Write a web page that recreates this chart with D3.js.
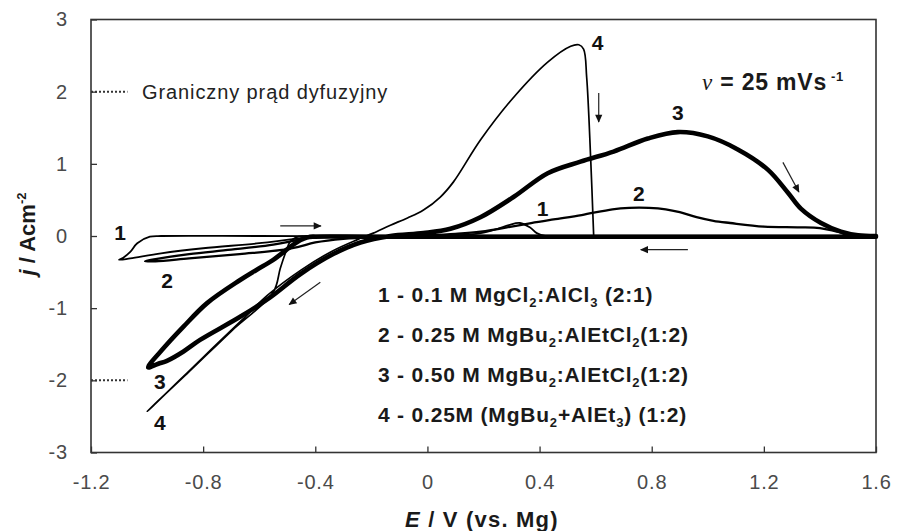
<!DOCTYPE html>
<html><head><meta charset="utf-8">
<script src="https://cdn.jsdelivr.net/npm/d3@7"></script>
<style>
body{margin:0;background:#fff;}
svg{display:block;}
text{font-family:"Liberation Sans",Arial,Helvetica,sans-serif;}
</style>
</head><body>
<svg id="chart" width="897" height="531"></svg>
<script>
// ---- tick values / labels
const xTicks = [-1.2, -0.8, -0.4, 0, 0.4, 0.8, 1.2, 1.6];
const xTickLabels = ["-1.2", "-0.8", "-0.4", "0", "0.4", "0.8", "1.2", "1.6"];
const yTicks = [-3, -2, -1, 0, 1, 2, 3];
const yTickLabels = ["-3", "-2", "-1", "0", "1", "2", "3"];

// ---- series (E in V vs. Mg, j in A cm^-2)
const curve1E = [-0.45, -0.6, -0.8, -0.95, -1.06, -1.1, -1.085, -1.06, -1.035, -0.99, -0.95, -0.6, -0.2, 0.1, 0.19, 0.25, 0.29, 0.33, 0.365, 0.39, 0.42, 0.6, 1.0, 1.6];
const curve1J = [-0.03, -0.1, -0.17, -0.24, -0.31, -0.33, -0.3, -0.22, -0.1, -0.01, 0.0, 0.0, 0.0, 0.01, 0.04, 0.1, 0.15, 0.18, 0.12, 0.04, 0.0, 0.0, 0.0, 0.0];

const curve2E = [1.6, 0.8, 0.0, -0.38, -0.42, -0.46, -0.55, -0.7, -0.85, -0.97, -1.007, -0.97, -0.85, -0.67, -0.51, -0.46, -0.4, -0.3, -0.15, 0.0, 0.1, 0.19, 0.3, 0.37, 0.45, 0.55, 0.66, 0.72, 0.79, 0.85, 0.9, 0.96, 1.02, 1.08, 1.2, 1.32, 1.4, 1.45, 1.5, 1.54, 1.6];
const curve2J = [0.0, 0.0, 0.0, 0.0, 0.0, -0.05, -0.12, -0.19, -0.25, -0.32, -0.35, -0.35, -0.31, -0.25, -0.19, -0.15, -0.09, -0.04, -0.01, 0.01, 0.03, 0.06, 0.13, 0.18, 0.23, 0.29, 0.37, 0.39, 0.39, 0.37, 0.33, 0.26, 0.21, 0.18, 0.13, 0.12, 0.11, 0.07, 0.03, 0.01, 0.0];

const curve3E = [1.6, 0.6, -0.2, -0.4, -0.43, -0.454, -0.489, -0.55, -0.61, -0.668, -0.786, -0.871, -0.94, -0.996, -0.96, -0.929, -0.87, -0.811, -0.668, -0.561, -0.454, -0.336, -0.239, -0.132, -0.014, 0.082, 0.189, 0.307, 0.429, 0.546, 0.664, 0.786, 0.893, 1.0, 1.107, 1.214, 1.286, 1.332, 1.404, 1.475, 1.536, 1.6];
const curve3J = [-0.01, -0.01, -0.01, -0.01, -0.02, -0.06, -0.15, -0.33, -0.47, -0.61, -0.93, -1.26, -1.55, -1.82, -1.77, -1.73, -1.6, -1.44, -1.12, -0.85, -0.53, -0.25, -0.09, 0.0, 0.04, 0.1, 0.26, 0.54, 0.87, 1.03, 1.17, 1.35, 1.44, 1.38, 1.2, 0.92, 0.6, 0.38, 0.18, 0.06, 0.01, 0.0];

const curve4E = [0.593, 0.2, -0.2, -0.44, -0.47, -0.49, -0.505, -0.525, -0.55, -0.7, -0.85, -1.0, -0.98, -0.8, -0.65, -0.57, -0.45, -0.34, -0.25, -0.193, -0.132, -0.071, -0.014, 0.046, 0.093, 0.189, 0.307, 0.429, 0.511, 0.54, 0.557, 0.568, 0.582, 0.593];
const curve4J = [0.0, 0.0, 0.0, 0.0, -0.02, -0.08, -0.22, -0.45, -0.78, -1.32, -1.88, -2.43, -2.36, -1.68, -1.12, -0.82, -0.47, -0.21, -0.05, 0.04, 0.15, 0.25, 0.36, 0.54, 0.75, 1.33, 1.92, 2.41, 2.63, 2.65, 2.59, 2.2, 1.1, 0.0];

const curveWidths = [1.8, 2.3, 4.6, 1.7];

// ---- curve number labels [E, j, text]
const curveLabelE = [-1.096, -0.929, -0.954, -0.954, 0.607, 0.893, 0.754, 0.411];
const curveLabelJ = [0.05, -0.61, -2.02, -2.59, 2.68, 1.71, 0.59, 0.38];
const curveLabelText = ["1", "2", "3", "4", "4", "3", "2", "1"];

// ---- arrows (tail -> head)
const arrowE1 = [-0.525, 0.611, 1.268, 0.929, -0.382];
const arrowJ1 = [0.14, 1.98, 1.02, -0.19, -0.64];
const arrowE2 = [-0.38, 0.611, 1.325, 0.761, -0.493];
const arrowJ2 = [0.14, 1.58, 0.61, -0.19, -0.95];

// ---- limiting-current reference levels
const limitLevels = [2, -2];
const limitLabel = "Graniczny prąd dyfuzyjny";

// ---- legend lines (segments; 1 = subscript)
const legendLines = [
  [["1 - 0.1 M MgCl", 0], ["2", 1], [":AlCl", 0], ["3", 1], [" (2:1)", 0]],
  [["2 - 0.25 M MgBu", 0], ["2", 1], [":AlEtCl", 0], ["2", 1], ["(1:2)", 0]],
  [["3 - 0.50 M MgBu", 0], ["2", 1], [":AlEtCl", 0], ["2", 1], ["(1:2)", 0]],
  [["4 - 0.25M (MgBu", 0], ["2", 1], ["+AlEt", 0], ["3", 1], [") (1:2)", 0]]
];

// ---------------------------------------------------------------
const svg = d3.select("#chart");
const L = 91, R = 876, T = 19.5, B = 452.5;
const x = d3.scaleLinear().domain([-1.2, 1.6]).range([L, R]);
const y = d3.scaleLinear().domain([-3, 3]).range([B, T]);

const defs = svg.append("defs");
defs.append("marker").attr("id", "ah").attr("viewBox", "0 0 10 10")
  .attr("refX", 9).attr("refY", 5).attr("markerWidth", 9).attr("markerHeight", 8)
  .attr("markerUnits", "userSpaceOnUse").attr("orient", "auto")
  .append("path").attr("d", "M0,0.5 L10,5 L0,9.5 Z").attr("fill", "#111");

const xAxis = d3.axisBottom(x).tickValues(xTicks)
  .tickFormat((d, i) => xTickLabels[i]).tickSizeInner(-6).tickSizeOuter(0).tickPadding(22);
const yAxis = d3.axisLeft(y).tickValues(yTicks)
  .tickFormat((d, i) => yTickLabels[i]).tickSizeInner(-6).tickSizeOuter(0).tickPadding(23);

const gx = svg.append("g").attr("transform", `translate(0,${B})`).call(xAxis);
const gy = svg.append("g").attr("transform", `translate(${L},0)`).call(yAxis);
[gx, gy].forEach(g => {
  g.select(".domain").remove();
  g.selectAll(".tick line").attr("stroke", "#333").attr("stroke-width", 1.3);
  g.selectAll(".tick text").attr("fill", "#4a4a4a").attr("font-size", 20)
    .attr("letter-spacing", 0.8)
    .style("font-family", '"Liberation Sans",Arial,sans-serif');
});

svg.append("rect").attr("x", L).attr("y", T).attr("width", R - L).attr("height", B - T)
  .attr("fill", "none").attr("stroke", "#333").attr("stroke-width", 1.6);

limitLevels.forEach(v => {
  svg.append("line").attr("x1", x(-1.2)).attr("x2", x(-1.07))
    .attr("y1", y(v)).attr("y2", y(v))
    .attr("stroke", "#333").attr("stroke-width", 2).attr("stroke-dasharray", "2,2");
});
svg.append("text").attr("x", x(-1.018)).attr("y", y(2) + 7)
  .attr("font-size", 20).attr("letter-spacing", 0.9).attr("fill", "#222").text(limitLabel);

const line = d3.line().x(d => x(d[0])).y(d => y(d[1])).curve(d3.curveCatmullRom.alpha(0.5));
const curves = [[curve1E, curve1J], [curve2E, curve2J], [curve3E, curve3J], [curve4E, curve4J]];
curves.forEach((c, i) => {
  const pts = c[0].map((e, k) => [e, c[1][k]]);
  svg.append("path").attr("d", line(pts)).attr("fill", "none")
    .attr("stroke", "#000").attr("stroke-width", curveWidths[i])
    .attr("stroke-linejoin", "round").attr("stroke-linecap", "round");
});

arrowE1.forEach((e, i) => {
  svg.append("line").attr("x1", x(e)).attr("y1", y(arrowJ1[i]))
    .attr("x2", x(arrowE2[i])).attr("y2", y(arrowJ2[i]))
    .attr("stroke", "#222").attr("stroke-width", 1.2).attr("marker-end", "url(#ah)");
});

curveLabelText.forEach((t, i) => {
  svg.append("text").attr("x", x(curveLabelE[i])).attr("y", y(curveLabelJ[i]) + 7.5)
    .attr("text-anchor", "middle").attr("font-size", 21).attr("font-weight", "bold")
    .attr("fill", "#111").text(t);
});

function rich(textSel, parts, subSize) {
  let shifted = false;
  parts.forEach(([s, sub]) => {
    const ts = textSel.append("tspan").text(s);
    if (sub && !shifted) { ts.attr("dy", 5).attr("font-size", subSize); shifted = true; }
    else if (!sub && shifted) { ts.attr("dy", -5); shifted = false; }
  });
}

legendLines.forEach((parts, i) => {
  const t = svg.append("text").attr("x", 378).attr("y", 302 + i * 40)
    .attr("font-size", 21).attr("font-weight", "bold").attr("fill", "#1a1a1a")
    .attr("letter-spacing", 0.8);
  rich(t, parts, 13);
});

const sr = svg.append("text").attr("x", 702).attr("y", 90).attr("font-size", 23)
  .attr("font-weight", "bold").attr("fill", "#1a1a1a").attr("letter-spacing", 0.8);
sr.append("tspan").attr("font-family", '"Liberation Serif","DejaVu Serif",serif')
  .attr("font-style", "italic").attr("font-weight", "normal").text("ν");
sr.append("tspan").text(" = 25 mVs");
sr.append("tspan").attr("dy", -9).attr("dx", 4).attr("font-size", 13).text("-1");

const xt = svg.append("text").attr("x", 405).attr("y", 527).attr("font-size", 22)
  .attr("font-weight", "bold").attr("fill", "#1a1a1a").attr("letter-spacing", 1.2);
xt.append("tspan").attr("font-style", "italic").text("E");
xt.append("tspan").text(" / V (vs. Mg)");

const yt = svg.append("text").attr("transform", "translate(35,234) rotate(-90)")
  .attr("text-anchor", "middle").attr("font-size", 22).attr("font-weight", "bold")
  .attr("fill", "#1a1a1a");
yt.append("tspan").attr("font-style", "italic").text("j");
yt.append("tspan").text(" / Acm");
yt.append("tspan").attr("dy", -9).attr("font-size", 13).text("-2");
</script>
</body></html>
